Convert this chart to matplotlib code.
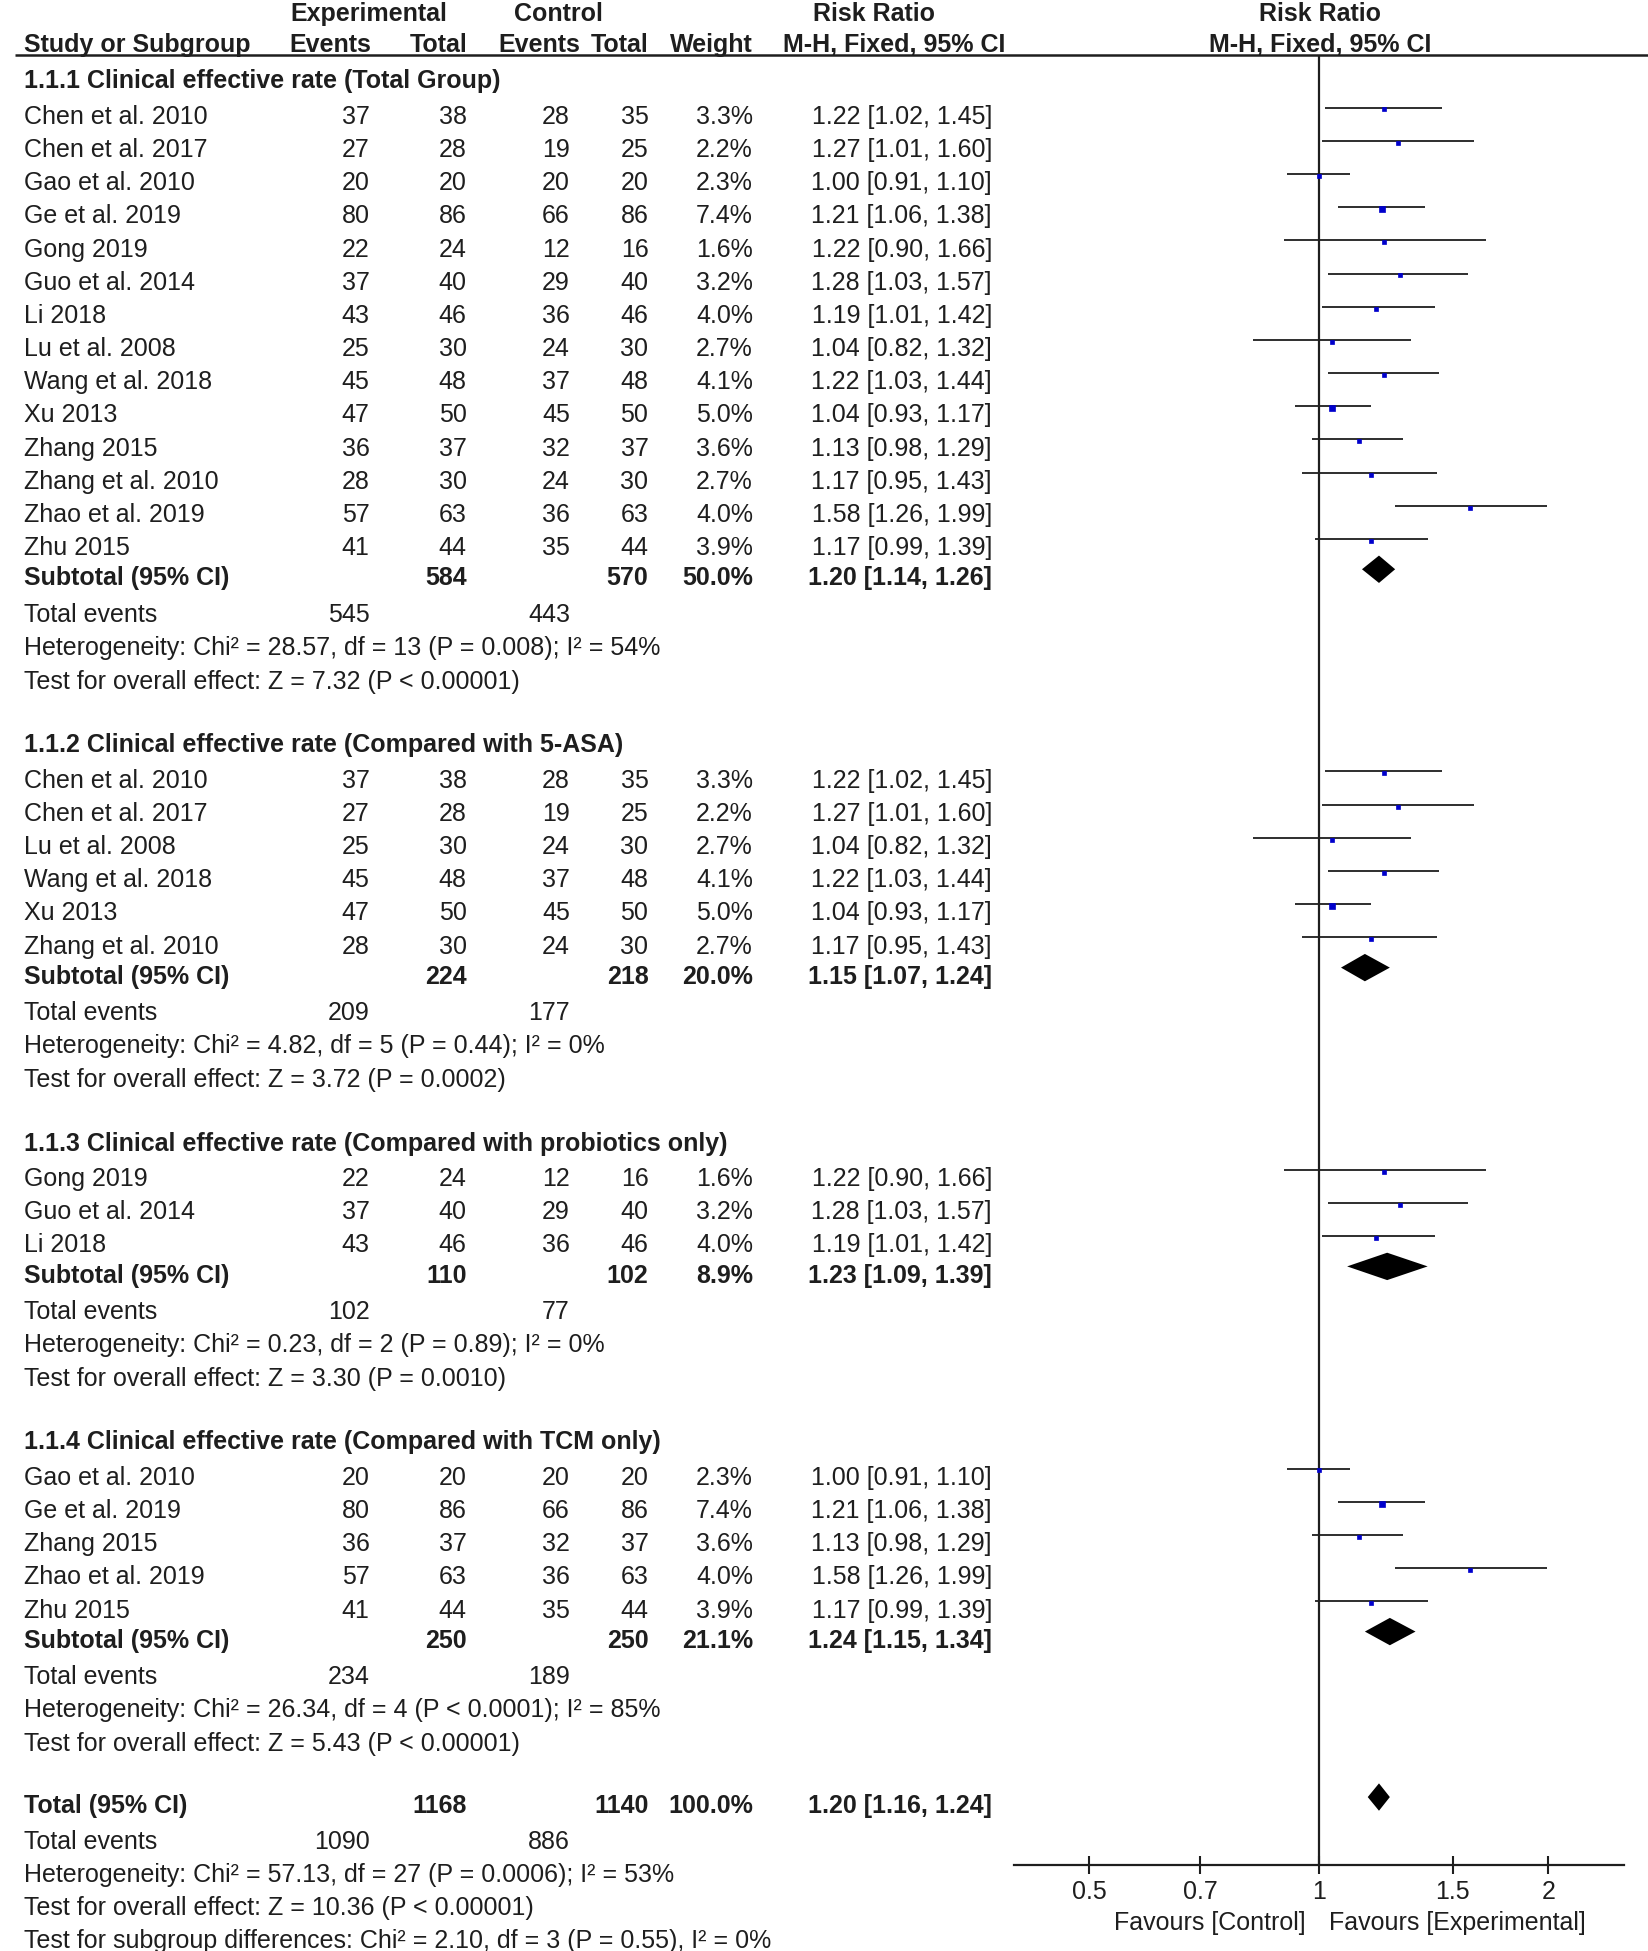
import numpy as np
import matplotlib.pyplot as plt
from matplotlib import font_manager
from matplotlib.ticker import NullLocator

avail = {f.name for f in font_manager.fontManager.ttflist}
if 'Liberation Sans Narrow' in avail:
    FONT, FS = 'Liberation Sans Narrow', 21
else:
    FONT, FS = 'Liberation Sans', 18
plt.rcParams['font.family'] = [FONT, 'DejaVu Sans']
INK = '#1e1e1e'

# ---- data ----
study = ['Chen et al. 2010', 'Chen et al. 2017', 'Gao et al. 2010', 'Ge et al. 2019',
         'Gong 2019', 'Guo et al. 2014', 'Li 2018', 'Lu et al. 2008', 'Wang et al. 2018',
         'Xu 2013', 'Zhang 2015', 'Zhang et al. 2010', 'Zhao et al. 2019', 'Zhu 2015']
exp_ev = [37, 27, 20, 80, 22, 37, 43, 25, 45, 47, 36, 28, 57, 41]
exp_n = [38, 28, 20, 86, 24, 40, 46, 30, 48, 50, 37, 30, 63, 44]
ctl_ev = [28, 19, 20, 66, 12, 29, 36, 24, 37, 45, 32, 24, 36, 35]
ctl_n = [35, 25, 20, 86, 16, 40, 46, 30, 48, 50, 37, 30, 63, 44]
weight = [3.3, 2.2, 2.3, 7.4, 1.6, 3.2, 4.0, 2.7, 4.1, 5.0, 3.6, 2.7, 4.0, 3.9]
rr = [1.22, 1.27, 1.00, 1.21, 1.22, 1.28, 1.19, 1.04, 1.22, 1.04, 1.13, 1.17, 1.58, 1.17]
lo = [1.02, 1.01, 0.91, 1.06, 0.90, 1.03, 1.01, 0.82, 1.03, 0.93, 0.98, 0.95, 1.26, 0.99]
hi = [1.45, 1.60, 1.10, 1.38, 1.66, 1.57, 1.42, 1.32, 1.44, 1.17, 1.29, 1.43, 1.99, 1.39]

group_title = ['1.1.1 Clinical effective rate (Total Group)',
               '1.1.2 Clinical effective rate (Compared with 5-ASA)',
               '1.1.3 Clinical effective rate (Compared with probiotics only)',
               '1.1.4 Clinical effective rate (Compared with TCM only)']
group_members = [list(range(14)), [0, 1, 7, 8, 9, 11], [4, 5, 6], [2, 3, 10, 12, 13]]
sub_exp_n = [584, 224, 110, 250]
sub_ctl_n = [570, 218, 102, 250]
sub_weight = [50.0, 20.0, 8.9, 21.1]
sub_rr = [1.20, 1.15, 1.23, 1.24]
sub_lo = [1.14, 1.07, 1.09, 1.15]
sub_hi = [1.26, 1.24, 1.39, 1.34]
sub_exp_ev = [545, 209, 102, 234]
sub_ctl_ev = [443, 177, 77, 189]
sub_het = ['Chi² = 28.57, df = 13 (P = 0.008); I² = 54%',
           'Chi² = 4.82, df = 5 (P = 0.44); I² = 0%',
           'Chi² = 0.23, df = 2 (P = 0.89); I² = 0%',
           'Chi² = 26.34, df = 4 (P < 0.0001); I² = 85%']
sub_z = ['Z = 7.32 (P < 0.00001)', 'Z = 3.72 (P = 0.0002)',
         'Z = 3.30 (P = 0.0010)', 'Z = 5.43 (P < 0.00001)']

tot_exp_n, tot_ctl_n, tot_weight = 1168, 1140, 100.0
tot_rr, tot_lo, tot_hi = 1.20, 1.16, 1.24
tot_exp_ev, tot_ctl_ev = 1090, 886
tot_het = 'Chi² = 57.13, df = 27 (P = 0.0006); I² = 53%'
tot_z = 'Z = 10.36 (P < 0.00001)'
subgroup_diff = 'Chi² = 2.10, df = 3 (P = 0.55), I² = 0%'

xticks = [0.5, 0.7, 1, 1.5, 2]
xtick_labels = ['0.5', '0.7', '1', '1.5', '2']

# ---- layout (units: px of a 1325x1568 canvas) ----
W, H = 1325, 1568
X_LEFT = 19
X_EEV, X_EN, X_CEV, X_CN, X_W, X_CI = 297, 375, 458, 521, 605, 797
BL = 7      # center -> baseline
OFF = 6     # forest marks sit a little above the text rows

fig = plt.figure(figsize=(16.49, 19.51), dpi=100)
tx = fig.add_axes([0, 0, 1, 1])
tx.set_xlim(0, W)
tx.set_ylim(H, 0)
tx.axis('off')

fx = fig.add_axes([815 / W, 0, 490 / W, 1])
fx.patch.set_alpha(0)
fx.set_xscale('log')
fx.set_xlim(0.3991, 2.515)
fx.set_ylim(H + OFF, OFF)


def t(x, y, s, ha='left', bold=False):
    tx.text(x, y + BL, s, ha=ha, va='baseline', fontsize=FS, color=INK,
            fontweight='bold' if bold else 'normal')


def ci(v, a, b):
    return f'{v:.2f} [{a:.2f}, {b:.2f}]'


# header
t(296, 10, 'Experimental', ha='center', bold=True)
t(449, 10, 'Control', ha='center', bold=True)
t(702, 10, 'Risk Ratio', ha='center', bold=True)
t(1061, 10, 'Risk Ratio', ha='center', bold=True)
t(X_LEFT, 35, 'Study or Subgroup', bold=True)
t(298, 35, 'Events', ha='right', bold=True)
t(376, 35, 'Total', ha='right', bold=True)
t(466, 35, 'Events', ha='right', bold=True)
t(521, 35, 'Total', ha='right', bold=True)
t(605, 35, 'Weight', ha='right', bold=True)
t(629, 35, 'M-H, Fixed, 95% CI', bold=True)
t(1061, 35, 'M-H, Fixed, 95% CI', ha='center', bold=True)
tx.hlines(44, 12, W, color=INK, lw=1.8)

y = 64
for g in range(4):
    if g > 0:
        y += 51
    t(X_LEFT, y, group_title[g], bold=True)
    y += 28.5
    for j, i in enumerate(group_members[g]):
        if j > 0:
            y += 26.67
        t(X_LEFT, y, study[i])
        t(X_EEV, y, str(exp_ev[i]), ha='right')
        t(X_EN, y, str(exp_n[i]), ha='right')
        t(X_CEV, y, str(ctl_ev[i]), ha='right')
        t(X_CN, y, str(ctl_n[i]), ha='right')
        t(X_W, y, f'{weight[i]:.1f}%', ha='right')
        t(X_CI, y, ci(rr[i], lo[i], hi[i]), ha='right')
        fx.hlines(y, lo[i], hi[i], color=INK, lw=1.3, zorder=2)
        fx.plot(rr[i], y + 1.5, marker='s', ms=(3.5 + 0.35 * weight[i]) * 0.72,
                color='#0000cc', mec='#0000cc', mew=0.5, zorder=3)
    y += 24.3
    t(X_LEFT, y, 'Subtotal (95% CI)', bold=True)
    t(X_EN, y, str(sub_exp_n[g]), ha='right', bold=True)
    t(X_CN, y, str(sub_ctl_n[g]), ha='right', bold=True)
    t(X_W, y, f'{sub_weight[g]:.1f}%', ha='right', bold=True)
    t(X_CI, y, ci(sub_rr[g], sub_lo[g], sub_hi[g]), ha='right', bold=True)
    fx.fill([sub_lo[g], sub_rr[g], sub_hi[g], sub_rr[g]], [y, y - 11, y, y + 11],
            color='black', lw=0)
    y += 29
    t(X_LEFT, y, 'Total events')
    t(X_EEV, y, str(sub_exp_ev[g]), ha='right')
    t(X_CEV, y, str(sub_ctl_ev[g]), ha='right')
    y += 27
    t(X_LEFT, y, 'Heterogeneity: ' + sub_het[g])
    y += 27
    t(X_LEFT, y, 'Test for overall effect: ' + sub_z[g])

y += 50
t(X_LEFT, y, 'Total (95% CI)', bold=True)
t(X_EN, y, str(tot_exp_n), ha='right', bold=True)
t(X_CN, y, str(tot_ctl_n), ha='right', bold=True)
t(X_W, y, f'{tot_weight:.1f}%', ha='right', bold=True)
t(X_CI, y, ci(tot_rr, tot_lo, tot_hi), ha='right', bold=True)
fx.fill([tot_lo, tot_rr, tot_hi, tot_rr], [y, y - 11, y, y + 11], color='black', lw=0)
y += 29
t(X_LEFT, y, 'Total events')
t(X_EEV, y, str(tot_exp_ev), ha='right')
t(X_CEV, y, str(tot_ctl_ev), ha='right')
y += 26.5
t(X_LEFT, y, 'Heterogeneity: ' + tot_het)
y += 26.5
t(X_LEFT, y, 'Test for overall effect: ' + tot_z)
y += 26.5
t(X_LEFT, y, 'Test for subgroup differences: ' + subgroup_diff)

# forest axis
AX_Y = 1499
fx.vlines(1, 44 + OFF, AX_Y + OFF, color=INK, lw=1.6)
for s in ['top', 'left', 'right']:
    fx.spines[s].set_visible(False)
fx.spines['bottom'].set_position(('data', AX_Y + OFF))
fx.spines['bottom'].set_color(INK)
fx.spines['bottom'].set_linewidth(1.6)
fx.set_xticks(xticks)
fx.set_xticklabels(xtick_labels)
fx.xaxis.set_minor_locator(NullLocator())
fx.tick_params(axis='x', direction='inout', length=13, width=1.5, color=INK,
               labelsize=FS, labelcolor=INK, pad=4)
fx.set_yticks([])

t(1049, 1544, 'Favours [Control]', ha='right')
t(1068, 1544, 'Favours [Experimental]')

fig.savefig('out.png', dpi=100)
